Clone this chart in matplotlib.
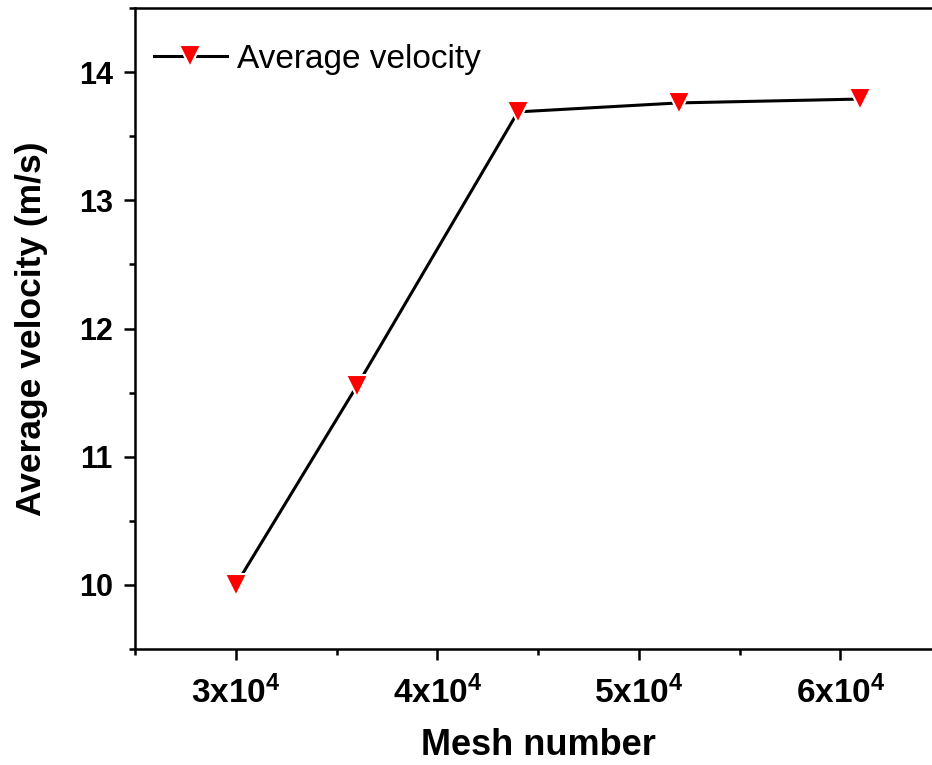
# Independencia de malla: velocidad media vs número de celdas
import numpy as np
import matplotlib
matplotlib.use('Agg')
import matplotlib.pyplot as plt
from matplotlib.ticker import MultipleLocator, FixedLocator, FixedFormatter

plt.rcParams['font.family'] = ['Liberation Sans', 'DejaVu Sans']
plt.rcParams['font.weight'] = 'bold'
plt.rcParams['mathtext.fontset'] = 'custom'
plt.rcParams['mathtext.rm'] = 'Liberation Sans:bold'
plt.rcParams['mathtext.default'] = 'rm'

# --------------------------
# Datos
# --------------------------
mesh_number = [30000, 36000, 44000, 52000, 61000]
avg_velocity = [10.0, 11.55, 13.69, 13.76, 13.79]
xtick_pos = [30000, 40000, 50000, 60000]
xtick_labels = ['3x10$^{4}$', '4x10$^{4}$', '5x10$^{4}$', '6x10$^{4}$']

# --------------------------
# Figura
# --------------------------
fig = plt.figure(figsize=(9.32, 7.65), dpi=100)
ax = fig.add_axes([0.1449, 0.1516, 0.8648, 0.8379])

ax.plot(mesh_number, avg_velocity, color='black', linewidth=2.2,
        marker='v', markersize=16, markerfacecolor='red',
        markeredgecolor='white', markeredgewidth=1.5,
        label='Average velocity')

ax.set_xlim(25000, 65000)
ax.set_ylim(9.5, 14.5)

ax.xaxis.set_major_locator(FixedLocator(xtick_pos))
ax.xaxis.set_major_formatter(FixedFormatter(xtick_labels))
ax.xaxis.set_minor_locator(MultipleLocator(5000))
ax.yaxis.set_major_locator(MultipleLocator(1))
ax.yaxis.set_minor_locator(MultipleLocator(0.5))

for s in ['left', 'bottom', 'top']:
    ax.spines[s].set_linewidth(1.8)
ax.spines['right'].set_visible(False)

ax.tick_params(which='major', direction='out', length=8, width=1.8)
ax.tick_params(axis='x', which='major', pad=11, labelsize=24)
ax.tick_params(axis='y', which='major', pad=8, labelsize=22)
ax.tick_params(which='minor', direction='out', length=4, width=1.8)
ax.tick_params(top=False, right=False, which='both')

ax.set_xlabel('Mesh number', fontsize=26, fontweight='bold', labelpad=13)
ax.set_ylabel('Average velocity (m/s)', fontsize=25.5, fontweight='bold', labelpad=22)

leg = ax.legend(loc='upper left', bbox_to_anchor=(-0.01, 0.986), frameon=False,
                fontsize=24, handlelength=2.2, handletextpad=0.3,
                borderaxespad=0.4, markerscale=0.95)
for t in leg.get_texts():
    t.set_fontweight('normal')

fig.savefig('out.png', dpi=100)
